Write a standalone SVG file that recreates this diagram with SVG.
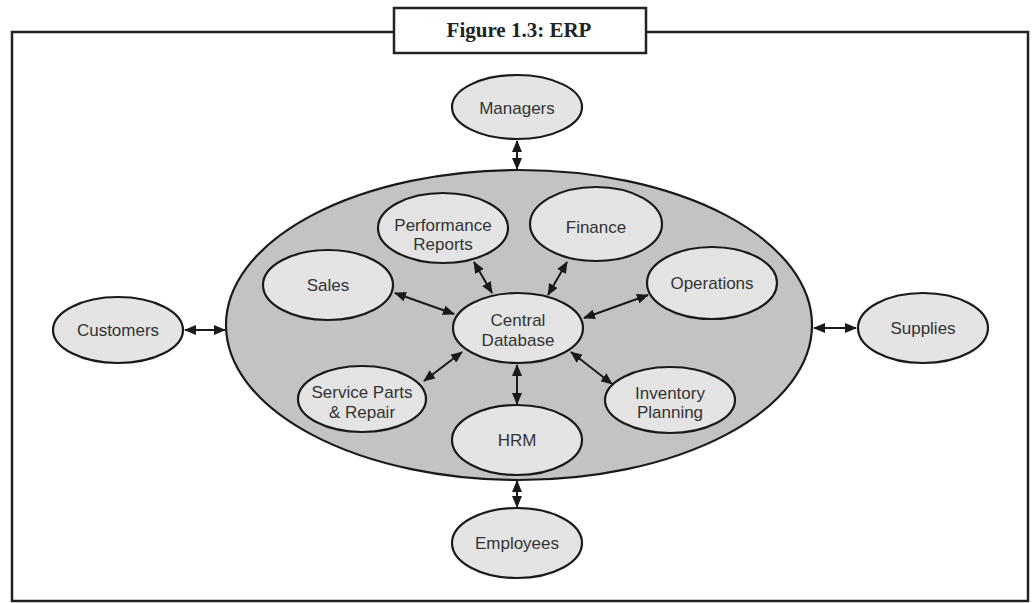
<svg xmlns="http://www.w3.org/2000/svg" width="1032" height="603" viewBox="0 0 1032 603">
<style>
.frame{fill:none;stroke:#222;stroke-width:2.5}
.node{fill:#e4e4e4;stroke:#1a1a1a;stroke-width:2.2}
.big{fill:#c3c3c3;stroke:#1a1a1a;stroke-width:2.2}
.lbl{font-family:"Liberation Sans",Arial,sans-serif;font-size:17px;fill:#333;text-anchor:middle}
.title{font-family:"Liberation Serif","Times New Roman",serif;font-size:21px;font-weight:bold;fill:#222;text-anchor:middle}
.conn{stroke:#1a1a1a;stroke-width:2;fill:none;marker-start:url(#ah);marker-end:url(#ah)}
</style>
<defs>
<marker id="ah" viewBox="0 0 12 10" refX="11" refY="5" markerWidth="6" markerHeight="5" orient="auto-start-reverse" markerUnits="strokeWidth">
<path d="M0,0 L12,5 L0,10 z" fill="#1a1a1a"/>
</marker>
</defs>
<rect x="0" y="0" width="1032" height="603" fill="#fff"/>
<g id="frame">
<rect class="frame" x="12" y="32" width="1016" height="569"/>
<rect x="394" y="8" width="252" height="45" fill="#fff" stroke="#222" stroke-width="2.5"/>
<text class="title" x="519" y="37">Figure 1.3: ERP</text>
</g>
<g id="erp-system"><ellipse class="big" cx="519" cy="325" rx="293" ry="155"/></g>
<g id="connectors">
<line class="conn" x1="517" y1="141" x2="517" y2="169"/>
<line class="conn" x1="185" y1="330" x2="225" y2="330"/>
<line class="conn" x1="814" y1="328" x2="856" y2="328"/>
<line class="conn" x1="517" y1="481" x2="517" y2="507"/>
<line class="conn" x1="474" y1="262" x2="492" y2="293"/>
<line class="conn" x1="567" y1="262" x2="548" y2="295"/>
<line class="conn" x1="395" y1="293" x2="454" y2="314"/>
<line class="conn" x1="648" y1="295" x2="584" y2="318"/>
<line class="conn" x1="424" y1="381" x2="462" y2="352"/>
<line class="conn" x1="517" y1="365" x2="517" y2="404"/>
<line class="conn" x1="571" y1="352" x2="612" y2="384"/>
</g>
<g id="managers"><ellipse class="node" cx="517" cy="107" rx="65" ry="32"/><text class="lbl" x="517" y="114">Managers</text></g>
<g id="customers"><ellipse class="node" cx="118" cy="330" rx="65" ry="33"/><text class="lbl" x="118" y="336">Customers</text></g>
<g id="supplies"><ellipse class="node" cx="923" cy="328" rx="65" ry="35"/><text class="lbl" x="923" y="334">Supplies</text></g>
<g id="employees"><ellipse class="node" cx="517" cy="543" rx="65" ry="35"/><text class="lbl" x="517" y="549">Employees</text></g>
<g id="performance-reports"><ellipse class="node" cx="443" cy="228" rx="65" ry="35"/><text class="lbl" x="443" y="231">Performance</text><text class="lbl" x="443" y="250">Reports</text></g>
<g id="finance"><ellipse class="node" cx="596" cy="224" rx="66" ry="37"/><text class="lbl" x="596" y="233">Finance</text></g>
<g id="sales"><ellipse class="node" cx="328" cy="285" rx="65" ry="35"/><text class="lbl" x="328" y="291">Sales</text></g>
<g id="operations"><ellipse class="node" cx="712" cy="283" rx="65" ry="36"/><text class="lbl" x="712" y="289">Operations</text></g>
<g id="central-database"><ellipse class="node" cx="518" cy="328" rx="65" ry="35"/><text class="lbl" x="518" y="326">Central</text><text class="lbl" x="518" y="346">Database</text></g>
<g id="service-parts"><ellipse class="node" cx="362" cy="399" rx="64" ry="33"/><text class="lbl" x="362" y="398">Service Parts</text><text class="lbl" x="362" y="418">&amp; Repair</text></g>
<g id="inventory-planning"><ellipse class="node" cx="670" cy="400" rx="65" ry="33"/><text class="lbl" x="670" y="399">Inventory</text><text class="lbl" x="670" y="418">Planning</text></g>
<g id="hrm"><ellipse class="node" cx="517" cy="440" rx="65" ry="35"/><text class="lbl" x="517" y="446">HRM</text></g>
</svg>
